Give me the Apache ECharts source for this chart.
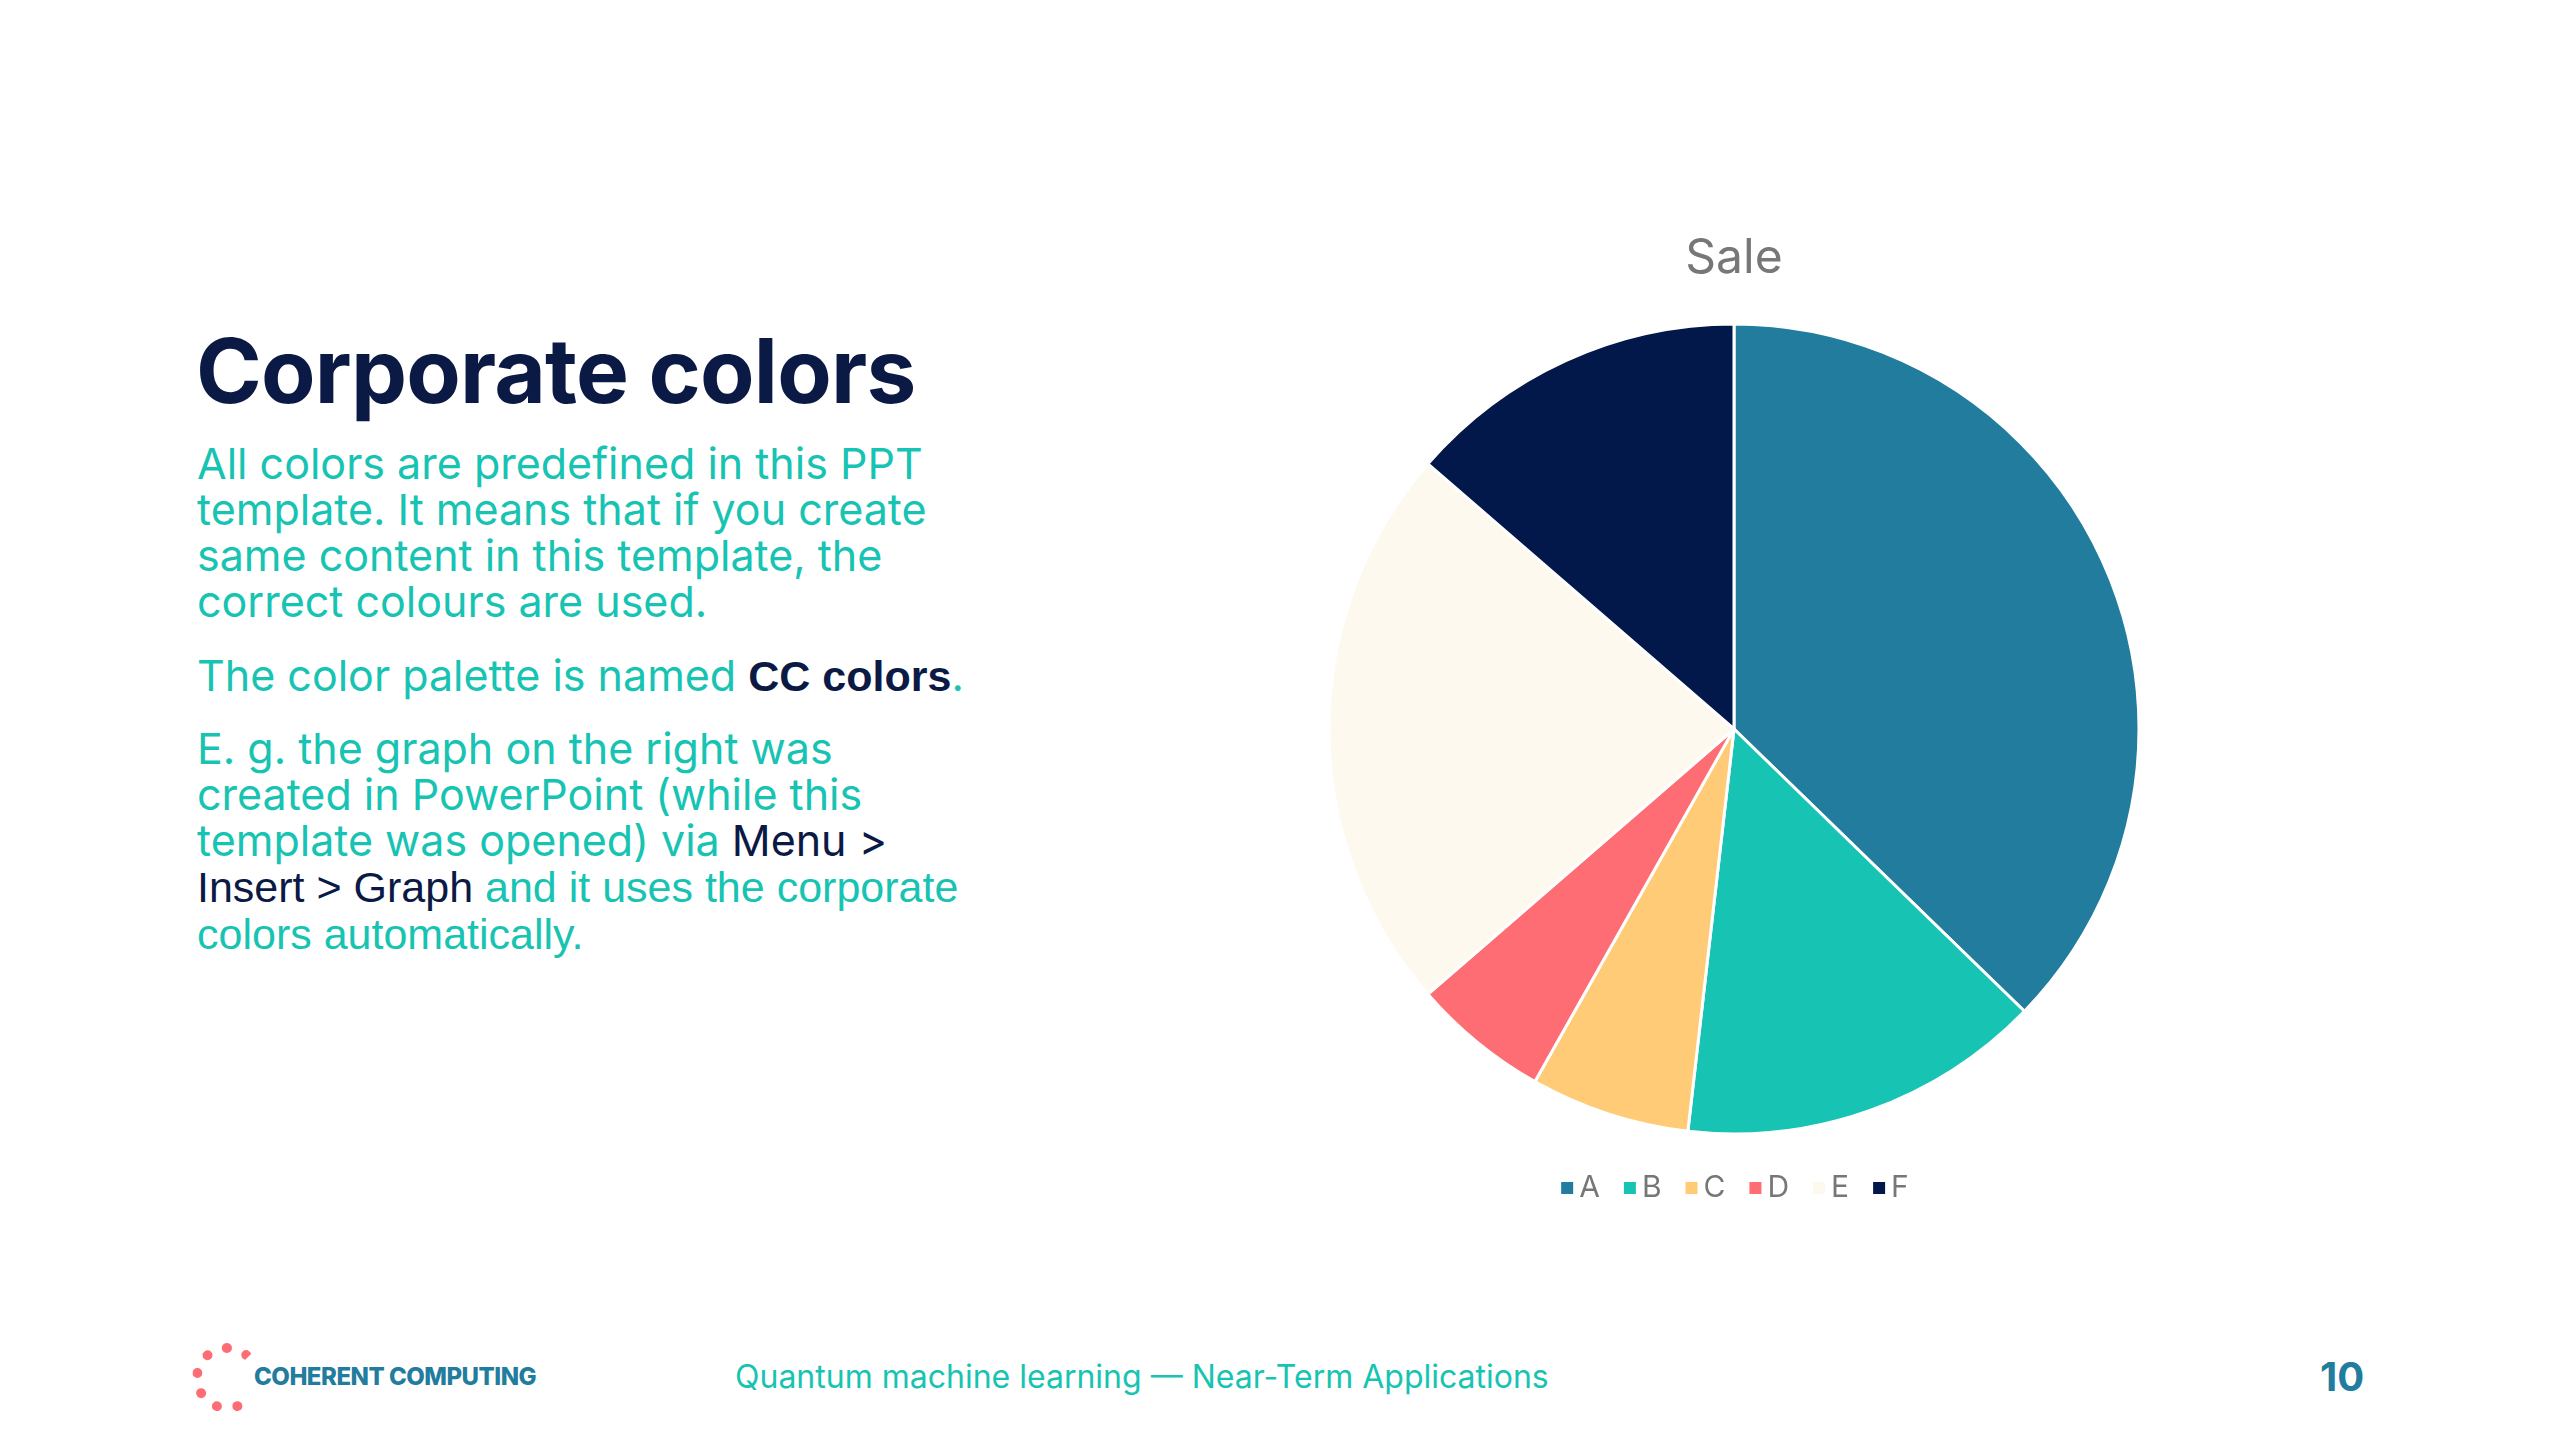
<!DOCTYPE html>
<html>
<head>
<meta charset="utf-8">
<script src="https://cdn.jsdelivr.net/npm/echarts@6/dist/echarts.min.js"></script>
<style>
  html, body { margin: 0; padding: 0; background: #fff; }
  #page { position: relative; width: 2560px; height: 1440px; overflow: hidden; font-family: Inter, "Noto Sans", sans-serif; }
  #chart { position: absolute; left: 1200px; top: 180px; width: 1068px; height: 1100px; }
  .title { position: absolute; left: 196px; top: 317px; font-size: 89px; font-weight: 700; color: #0b1a45; letter-spacing: -0.8px; }
  .body { position: absolute; left: 197px; font-size: 43px; line-height: 46px; color: #17c3b2; }
  .dark { color: #0b1a45; }
  .arial { font-family: "Liberation Sans", Arial, sans-serif; }
  .footer { position: absolute; top: 1357px; font-size: 32px; color: #17c3b2; }
  .pagenum { position: absolute; left: 2320px; top: 1352px; font-size: 40px; font-weight: 700; color: #227c9d; }
  .logo { position: absolute; left: 192px; top: 1343px; width: 70px; height: 70px; border-radius: 50%;
          border: 10px dotted #fe6d73; border-right-color: transparent; box-sizing: border-box; }
  .logotext { position: absolute; left: 254px; top: 1362px; font-size: 24px; font-weight: 800; color: #227c9d; letter-spacing: -0.5px; }
</style>
</head>
<body>
<div id="page">
  <div class="title">Corporate colors</div>
  <div class="body" style="top:440px">All colors are predefined in this PPT<br>template. It means that if you create<br>same content in this template, the<br>correct colours are used.</div>
  <div class="body" style="top:652px">The color palette is named <b class="dark arial">CC colors</b>.</div>
  <div class="body" style="top:725px">E. g. the graph on the right was<br>created in PowerPoint (while this<br>template was opened) via <span class="dark">Menu &gt;</span><br><span class="arial"><span class="dark">Insert &gt; Graph</span> and it uses the corporate<br>colors automatically.</span></div>
  <div id="chart"></div>
  <div class="logo"></div>
  <div class="logotext">COHERENT COMPUTING</div>
  <div class="footer" style="left:735px">Quantum machine learning — Near-Term Applications</div>
  <div class="pagenum">10</div>
</div>
<script>
// 图表数据
const categories = ['A', 'B', 'C', 'D', 'E', 'F'];
const saleValues = [8.2, 3.2, 1.4, 1.2, 5, 3];
const palette = ['#227c9d', '#17c3b2', '#ffcb77', '#fe6d73', '#fef9ef', '#02174a'];

const chart = echarts.init(document.getElementById('chart'));
chart.setOption({
    color: palette,
    title: {
        text: 'Sale',
        left: 'center',
        top: 50,
        textStyle: { color: '#777', fontSize: 48, fontWeight: 'normal', fontFamily: 'Inter' }
    },
    legend: {
        bottom: 72,
        left: 'center',
        icon: 'rect',
        itemWidth: 14,
        itemHeight: 14,
        itemGap: 22,
        textStyle: { color: '#777', fontSize: 30, fontFamily: 'Inter' },
        data: categories
    },
    series: [{
        name: 'Sale',
        type: 'pie',
        center: ['50%', 549],
        radius: 405,
        startAngle: 90,
        clockwise: true,
        label: { show: false },
        labelLine: { show: false },
        itemStyle: { borderColor: '#fff', borderWidth: 3 },
        emphasis: { scale: false },
        data: categories.map((name, i) => ({ name: name, value: saleValues[i] }))
    }]
});
</script>
</body>
</html>
